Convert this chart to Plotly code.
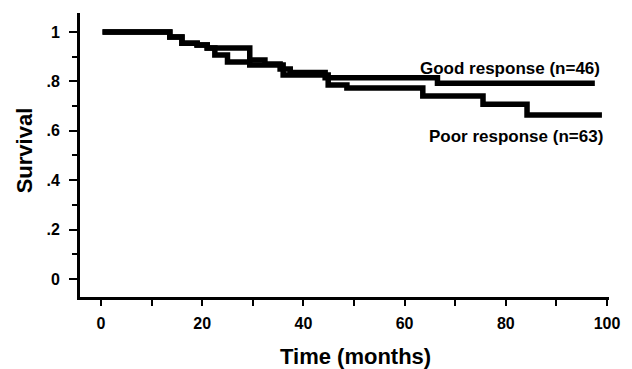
import plotly.graph_objects as go

# Kaplan-Meier step data
good_t = [0.3, 1, 13.6, 16, 19, 21, 29.4, 32.4, 35.4, 37.4, 44.3, 66.5, 97.6]
good_s = [1.0, 1.0, 0.98, 0.955, 0.947, 0.935, 0.887, 0.870, 0.850, 0.836, 0.815, 0.793, 0.793]

poor_t = [0.3, 1, 13.6, 16, 19, 21, 22.5, 25, 29.4, 36, 44.9, 48.6, 63.6, 75.5, 84.2, 99]
poor_s = [1.0, 1.0, 0.98, 0.955, 0.947, 0.935, 0.907, 0.879, 0.866, 0.826, 0.785, 0.773, 0.741, 0.708, 0.664, 0.664]

y_ticks = [0, 0.2, 0.4, 0.6, 0.8, 1.0]
y_ticktext = ["0", ".2", ".4", ".6", ".8", "1"]
x_ticks = [0, 20, 40, 60, 80, 100]
x_ticktext = ["0", "20", "40", "60", "80", "100"]

labels = ["Good response (n=46)", "Poor response (n=63)"]

FONT = "Liberation Sans, Arial, sans-serif"

fig = go.Figure()
fig.add_trace(go.Scatter(x=good_t, y=good_s, mode="lines", line=dict(shape="hv", color="black", width=5.5),
                         showlegend=False, hoverinfo="skip"))
fig.add_trace(go.Scatter(x=poor_t, y=poor_s, mode="lines", line=dict(shape="hv", color="black", width=5.5),
                         showlegend=False, hoverinfo="skip"))

fig.add_annotation(x=62.6, y=0.854, xref="x", yref="y", text="<b>" + labels[0] + "</b>", showarrow=False,
                   xanchor="left", yanchor="middle", font=dict(family=FONT, size=17, color="black"))
fig.add_annotation(x=64.4, y=0.575, xref="x", yref="y", text="<b>" + labels[1] + "</b>", showarrow=False,
                   xanchor="left", yanchor="middle", font=dict(family=FONT, size=17, color="black"))

# axis titles
fig.add_annotation(x=0.52, y=-0.211, xref="paper", yref="paper", text="<b>Time (months)</b>", showarrow=False,
                   xanchor="center", yanchor="middle", font=dict(family=FONT, size=22, color="black"))
fig.add_annotation(x=-0.105, y=0.518, xref="paper", yref="paper", text="<b>Survival</b>", showarrow=False,
                   textangle=-90, xanchor="center", yanchor="middle", font=dict(family=FONT, size=22, color="black"))

fig.update_layout(
    width=632, height=369,
    margin=dict(l=80, r=23, t=13, b=72),
    paper_bgcolor="white", plot_bgcolor="white",
    font=dict(family=FONT, color="black"),
    xaxis=dict(range=[-4.15, 100.4], showgrid=False, zeroline=False,
               showline=True, linecolor="black", linewidth=3,
               tickmode="array", tickvals=x_ticks, ticktext=["<b>%s</b>" % t for t in x_ticktext],
               ticks="outside", ticklen=6, tickwidth=2, tickcolor="black",
               tickfont=dict(size=16, family=FONT, color="black"), ticklabelstandoff=4,
               minor=dict(tickmode="array", tickvals=[10, 30, 50, 70, 90], ticks="outside",
                          ticklen=6, tickwidth=2, tickcolor="black")),
    yaxis=dict(range=[-0.073, 1.077], showgrid=False, zeroline=False,
               showline=True, linecolor="black", linewidth=3,
               tickmode="array", tickvals=y_ticks, ticktext=["<b>%s</b>" % t for t in y_ticktext],
               ticks="outside", ticklen=8, tickwidth=2, tickcolor="black",
               tickfont=dict(size=16, family=FONT, color="black"), ticklabelstandoff=6,
               minor=dict(tickmode="array", tickvals=[0.1, 0.3, 0.5, 0.7, 0.9], ticks="outside",
                          ticklen=5, tickwidth=2, tickcolor="black")),
)

fig.write_html("out.html")
